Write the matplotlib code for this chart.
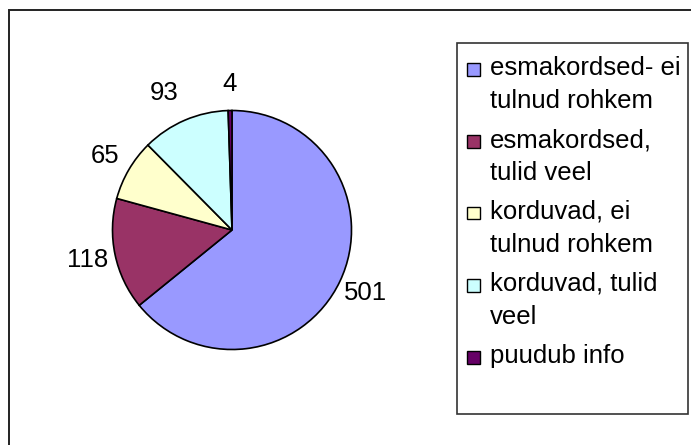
import numpy as np
import matplotlib
matplotlib.use('Agg')
import matplotlib.pyplot as plt
from matplotlib.patches import Rectangle

# data
categories = ['esmakordsed- ei\ntulnud rohkem',
              'esmakordsed,\ntulid veel',
              'korduvad, ei\ntulnud rohkem',
              'korduvad, tulid\nveel',
              'puudub info']
counts = [501, 118, 65, 93, 4]
colors = ['#9999FF', '#993366', '#FFFFCC', '#CCFFFF', '#660066']

# small angle nudges (degrees) / distances for the value labels, like the original
label_shift = [0, 0, 0, 3, 0]
label_dist = [1.235, 1.235, 1.235, 1.28, 1.22]

W, H = 691, 445
plt.rcParams['font.family'] = ['Liberation Sans', 'DejaVu Sans']
fig = plt.figure(figsize=(W / 100, H / 100), dpi=100)

def fx(px):
    return px / W

def fy(py):
    # image y (from top) -> figure fraction
    return 1 - py / H

# outer chart frame (runs past the right/bottom edge in the reference)
fig.patches.append(Rectangle((fx(9), fy(460)), fx(700), fy(9.5) - fy(460),
                             transform=fig.transFigure, fill=False,
                             edgecolor='#222222', linewidth=1.4))

# pie
cx, cy, r = 232, 230, 119.5
ax = fig.add_axes([fx(cx - r), fy(cy + r), fx(2 * r), fy(cy - r) - fy(cy + r)])
wedges, _ = ax.pie(counts, colors=colors, startangle=90, counterclock=False,
                   wedgeprops=dict(edgecolor='black', linewidth=1.2))
ax.set_xlim(-1, 1)
ax.set_ylim(-1, 1)
ax.axis('off')

for w, v, sh, d in zip(wedges, counts, label_shift, label_dist):
    ang = np.deg2rad((w.theta1 + w.theta2) / 2 + sh)
    ax.text(d * np.cos(ang), d * np.sin(ang), str(v), ha='center',
            va='center', fontsize=18.5, clip_on=False)

# legend drawn by hand so the marker sits on the first text line
lx0, ly0, lx1, ly1 = 457, 43, 688, 414
fig.patches.append(Rectangle((fx(lx0), fy(ly1)), fx(lx1 - lx0), fy(ly0) - fy(ly1),
                             transform=fig.transFigure, fill=False,
                             edgecolor='#333333', linewidth=1.2))
y0, step, sq = 69, 72, 13
for i, (lab, c) in enumerate(zip(categories, colors)):
    y = y0 + i * step
    fig.patches.append(Rectangle((fx(467), fy(y + sq / 2)), fx(sq), fy(y - sq / 2) - fy(y + sq / 2),
                                 transform=fig.transFigure, facecolor=c,
                                 edgecolor='black', linewidth=1.0))
    fig.text(fx(490), fy(y - 13), lab, ha='left', va='top', fontsize=18.5,
             linespacing=1.45)

fig.savefig('out.png', dpi=100)
